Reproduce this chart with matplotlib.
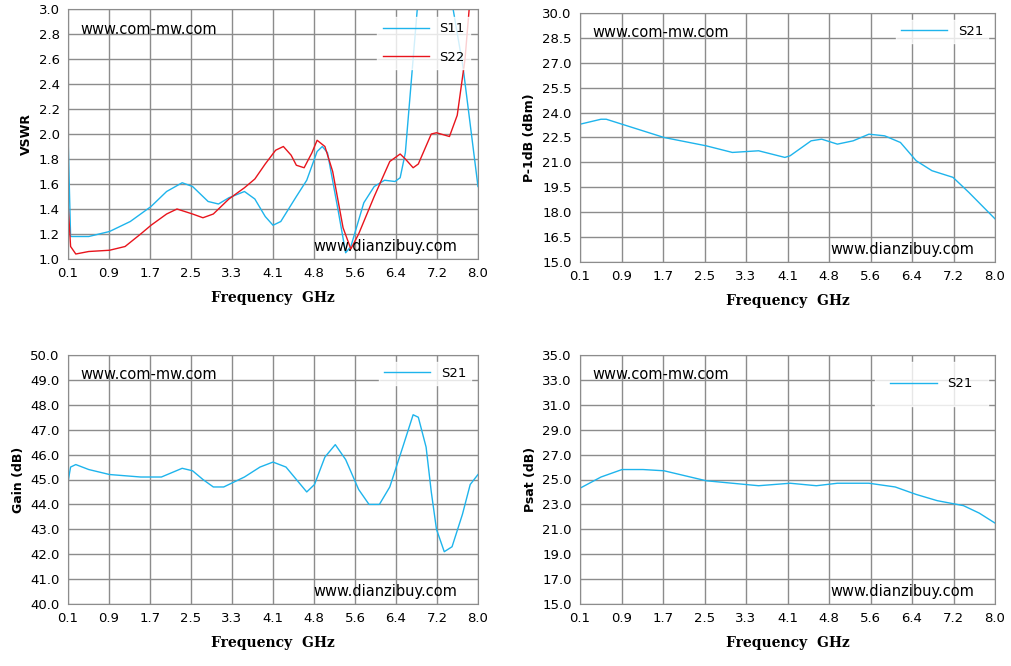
import numpy as np
import matplotlib.pyplot as plt

# frequency axis
tick_labels = ["0.1", "0.9", "1.7", "2.5", "3.3", "4.1", "4.8", "5.6", "6.4", "7.2", "8.0"]

# VSWR
s11_f = [0.1, 0.15, 0.5, 0.9, 1.3, 1.7, 2.0, 2.3, 2.5, 2.8, 3.0, 3.2, 3.5, 3.7, 3.9, 4.05, 4.2, 4.5, 4.7, 4.9, 5.0, 5.1,
         5.3, 5.45, 5.55, 5.8, 6.0, 6.2, 6.4, 6.5, 6.6, 6.75, 6.85, 7.1, 7.4, 7.52, 7.71, 8.0]
s11_v = [2.0, 1.18, 1.18, 1.22, 1.30, 1.42, 1.54, 1.61, 1.58, 1.46, 1.44, 1.49, 1.54, 1.48, 1.34, 1.27, 1.30, 1.50, 1.63,
         1.86, 1.90, 1.85, 1.40, 1.05, 1.10, 1.45, 1.58, 1.63, 1.62, 1.65, 1.85, 2.6, 3.1, 3.6, 3.4, 3.0, 2.54, 1.58]
s22_f = [0.1, 0.15, 0.25, 0.5, 0.9, 1.2, 1.5, 1.7, 2.0, 2.2, 2.5, 2.7, 2.9, 3.2, 3.5, 3.7, 3.9, 4.1, 4.25, 4.4, 4.5,
         4.65, 4.8, 4.9, 5.05, 5.2, 5.4, 5.55, 5.7, 6.0, 6.3, 6.5, 6.6, 6.75, 6.85, 7.1, 7.2, 7.45, 7.6, 7.75, 7.85]
s22_v = [1.45, 1.1, 1.04, 1.06, 1.07, 1.10, 1.20, 1.27, 1.36, 1.40, 1.36, 1.33, 1.36, 1.48, 1.57, 1.64, 1.76, 1.87, 1.90,
         1.83, 1.75, 1.73, 1.85, 1.95, 1.90, 1.70, 1.25, 1.08, 1.20, 1.50, 1.78, 1.84, 1.80, 1.73, 1.76, 2.00, 2.01, 1.98,
         2.15, 2.60, 3.1]

# P-1dB
p1_f = [0.1, 0.5, 0.6, 0.9, 1.7, 2.5, 3.0, 3.5, 4.0, 4.1, 4.5, 4.7, 5.0, 5.3, 5.6, 5.9, 6.2, 6.5, 6.8, 7.2, 7.5, 8.0]
p1_v = [23.3, 23.6, 23.6, 23.3, 22.5, 22.0, 21.6, 21.7, 21.3, 21.4, 22.3, 22.4, 22.1, 22.3, 22.7, 22.6, 22.2, 21.1,
        20.5, 20.1, 19.2, 17.6]

# Gain
g_f = [0.1, 0.15, 0.25, 0.5, 0.9, 1.5, 1.9, 2.3, 2.5, 2.7, 2.9, 3.1, 3.5, 3.8, 4.05, 4.3, 4.5, 4.7, 4.85, 5.05, 5.25,
       5.45, 5.7, 5.9, 6.1, 6.3, 6.55, 6.75, 6.85, 7.0, 7.1, 7.2, 7.35, 7.5, 7.7, 7.85, 8.0]
g_v = [44.9, 45.5, 45.6, 45.4, 45.2, 45.1, 45.1, 45.45, 45.35, 45.0, 44.7, 44.7, 45.1, 45.5, 45.7, 45.5, 45.0, 44.5,
       44.8, 45.9, 46.4, 45.8, 44.6, 44.0, 44.0, 44.7, 46.3, 47.6, 47.5, 46.3, 44.5, 43.0, 42.1, 42.3, 43.6, 44.8, 45.2]

# Psat
ps_f = [0.1, 0.5, 0.9, 1.3, 1.7, 2.1, 2.5, 3.0, 3.5, 4.1, 4.6, 5.0, 5.6, 6.1, 6.5, 6.9, 7.4, 7.7, 8.0]
ps_v = [24.3, 25.2, 25.8, 25.8, 25.7, 25.3, 24.9, 24.7, 24.5, 24.7, 24.5, 24.7, 24.7, 24.4, 23.8, 23.3, 22.9, 22.3, 21.5]

cyan = "#1EB4EC"
red = "#E8141C"
W, H = 1011, 666
fig = plt.figure(figsize=(W / 100, H / 100), dpi=100)


def panel(px, py, pw, ph, ylim, ystep, ylabel, ytfmt):
    ax = fig.add_axes([px / W, 1 - (py + ph) / H, pw / W, ph / H])
    ax.set_xlim(0.1, 8.0)
    ax.set_ylim(*ylim)
    ax.set_xticks(np.linspace(0.1, 8.0, 11))
    ax.set_xticklabels(tick_labels)
    yt = np.arange(ylim[0], ylim[1] + ystep / 2, ystep)
    ax.set_yticks(yt)
    ax.set_yticklabels([ytfmt % v for v in yt])
    ax.grid(True, color="#8c8c8c", lw=1)
    for s in ax.spines.values():
        s.set_color("#8c8c8c")
    ax.tick_params(length=0, labelsize=9.5, pad=6)
    ax.set_xlabel("Frequency  GHz", family="DejaVu Serif", weight="bold", fontsize=10, labelpad=8)
    ax.set_ylabel(ylabel, weight="bold", fontsize=9)
    ax.text(0.03, 0.95, "www.com-mw.com", transform=ax.transAxes, fontsize=10.5, va="top")
    ax.text(0.95, 0.02, "www.dianzibuy.com", transform=ax.transAxes, fontsize=10.5, ha="right", va="bottom")
    return ax


ax1 = panel(68, 9, 410, 250, (1.0, 3.0), 0.2, "VSWR", "%.1f")
ax1.plot(s11_f, s11_v, color=cyan, lw=1, label="S11")
ax1.plot(s22_f, s22_v, color=red, lw=1, label="S22")
leg = ax1.legend(loc="upper right", frameon=True, fontsize=9.5, handlelength=3.5, labelspacing=1.2,
                 fancybox=False, edgecolor="white", borderaxespad=0.6)

ax2 = panel(580, 13, 415, 249, (15.0, 30.0), 1.5, "P-1dB (dBm)", "%.1f")
ax2.plot(p1_f, p1_v, color=cyan, lw=1, label="S21")
ax2.legend(loc="upper right", frameon=True, fontsize=9.5, handlelength=3.5, fancybox=False, edgecolor="white")

ax3 = panel(68, 355, 410, 249, (40.0, 50.0), 1.0, "Gain (dB)", "%.1f")
ax3.plot(g_f, g_v, color=cyan, lw=1, label="S21")
ax3.legend(loc="upper right", frameon=True, fontsize=9.5, handlelength=3.5, fancybox=False, edgecolor="white")

ax4 = panel(580, 355, 415, 249, (15.0, 35.0), 2.0, "Psat (dB)", "%.1f")
ax4.plot(ps_f, ps_v, color=cyan, lw=1, label="S21")
ax4.legend(loc="upper right", frameon=True, fontsize=9.5, handlelength=3.5, fancybox=False, edgecolor="white",
           borderpad=1.2)

fig.savefig("out.png", dpi=100)
